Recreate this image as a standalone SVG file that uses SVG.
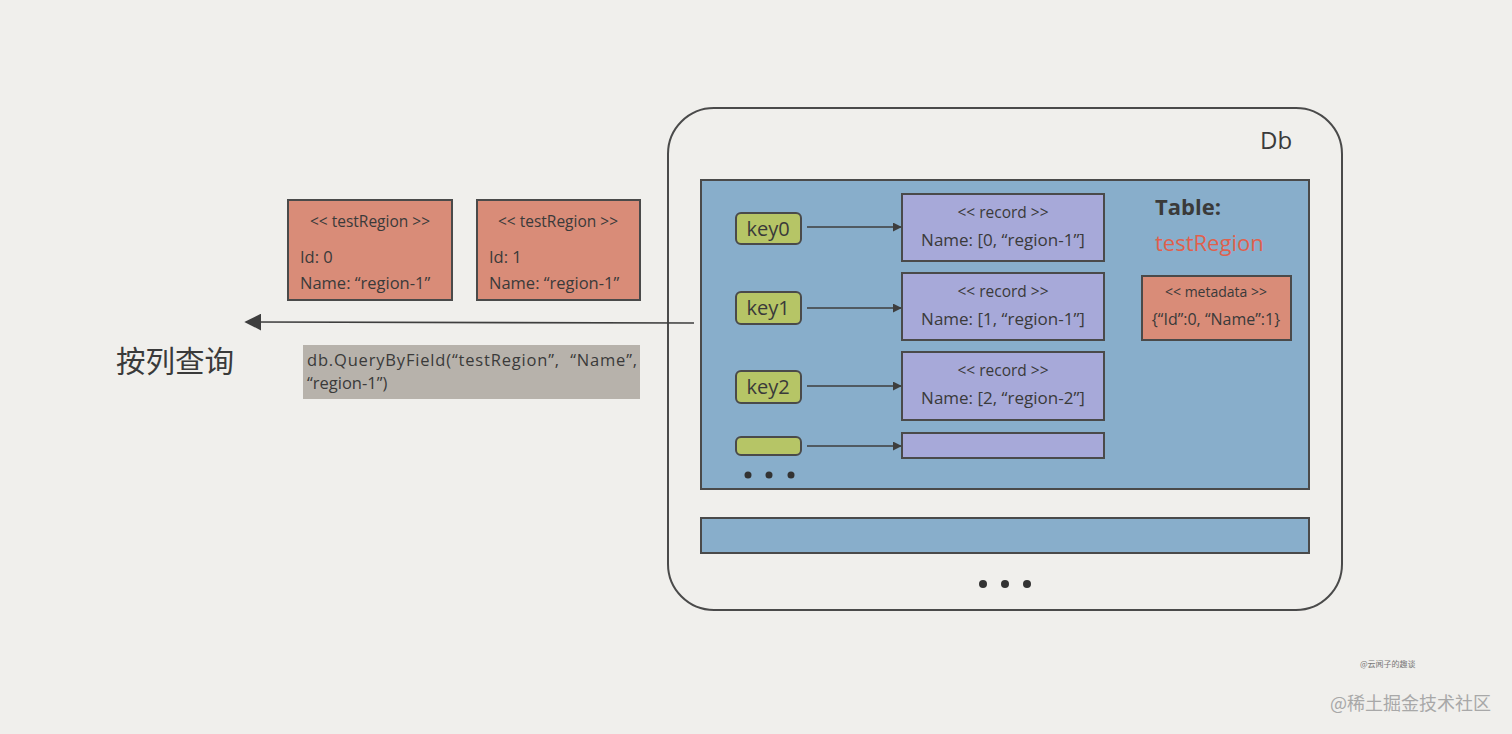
<svg xmlns="http://www.w3.org/2000/svg" width="1512" height="734" viewBox="0 0 1512 734">
<defs>
<style>
.t{font-family:"Open Sans","Noto Sans","Noto Sans CJK SC",sans-serif;fill:#3a3a3a}
.key{fill:#b6c566;stroke:#4a4a4a;stroke-width:2}
.rec{fill:#a7a9d9;stroke:#4a4a4a;stroke-width:2}
.salmon{fill:#d98c78;stroke:#4a4a4a;stroke-width:2}
.blue{fill:#88aecb;stroke:#4a4a4a;stroke-width:2}
.conn{stroke:#3e3e3e;stroke-width:1.6;fill:none}
</style>
<marker id="ah" viewBox="0 0 10 10" refX="9" refY="5" markerWidth="9" markerHeight="9" markerUnits="userSpaceOnUse" orient="auto">
<path d="M0,0 L10,5 L0,10 z" fill="#3e3e3e"/>
</marker>
<marker id="ahb" viewBox="0 0 10 10" refX="9" refY="5" markerWidth="17" markerHeight="17" markerUnits="userSpaceOnUse" orient="auto">
<path d="M0,0 L10,5 L0,10 z" fill="#3e3e3e"/>
</marker>
</defs>
<rect x="0" y="0" width="1512" height="734" fill="#f0efec"/>

<g id="db">
<rect x="668" y="108" width="674" height="502" rx="46" fill="none" stroke="#4a4a4a" stroke-width="2"/>
<text class="t" x="1260" y="149" font-size="24">Db</text>
<rect class="blue" x="701" y="180" width="608" height="309"/>
<rect class="blue" x="701" y="518" width="608" height="35"/>
<circle cx="983" cy="584" r="4" fill="#333"/>
<circle cx="1005" cy="584" r="4" fill="#333"/>
<circle cx="1027" cy="584" r="4" fill="#333"/>
</g>

<g id="table-label">
<text class="t" x="1155" y="215" font-size="22" font-weight="bold">Table:</text>
<text class="t" x="1155" y="251" font-size="22" style="fill:#e0604c">testRegion</text>
</g>

<g id="metadata">
<rect class="salmon" x="1142" y="276" width="149" height="64"/>
<text class="t" x="1216" y="297" font-size="14" text-anchor="middle">&lt;&lt; metadata &gt;&gt;</text>
<text class="t" x="1216" y="325" font-size="16" text-anchor="middle">{“Id”:0, “Name”:1}</text>
</g>

<g id="key0"><rect class="key" x="736" y="213" width="65" height="31" rx="5"/><text class="t" x="768" y="236" font-size="20" text-anchor="middle">key0</text></g>
<g id="key1"><rect class="key" x="736" y="292" width="65" height="32" rx="5"/><text class="t" x="768" y="315" font-size="20" text-anchor="middle">key1</text></g>
<g id="key2"><rect class="key" x="736" y="371" width="65" height="32" rx="5"/><text class="t" x="768" y="394" font-size="20" text-anchor="middle">key2</text></g>
<g id="key3"><rect class="key" x="736" y="437" width="65" height="18" rx="5"/></g>
<g id="dots-keys">
<circle cx="748" cy="475" r="3.5" fill="#333"/>
<circle cx="769" cy="475" r="3.5" fill="#333"/>
<circle cx="791" cy="475" r="3.5" fill="#333"/>
</g>

<g id="record0"><rect class="rec" x="902" y="194" width="202" height="67"/>
<text class="t" x="1003" y="218" font-size="15.5" text-anchor="middle">&lt;&lt; record &gt;&gt;</text>
<text class="t" x="1003" y="246" font-size="17" text-anchor="middle">Name: [0, “region-1”]</text></g>
<g id="record1"><rect class="rec" x="902" y="273" width="202" height="67"/>
<text class="t" x="1003" y="297" font-size="15.5" text-anchor="middle">&lt;&lt; record &gt;&gt;</text>
<text class="t" x="1003" y="325" font-size="17" text-anchor="middle">Name: [1, “region-1”]</text></g>
<g id="record2"><rect class="rec" x="902" y="352" width="202" height="68"/>
<text class="t" x="1003" y="376" font-size="15.5" text-anchor="middle">&lt;&lt; record &gt;&gt;</text>
<text class="t" x="1003" y="404" font-size="17" text-anchor="middle">Name: [2, “region-2”]</text></g>
<g id="record3"><rect class="rec" x="902" y="433" width="202" height="25"/></g>

<g id="testRegion0"><rect class="salmon" x="288" y="200" width="164" height="100"/>
<text class="t" x="370" y="227" font-size="15.5" text-anchor="middle">&lt;&lt; testRegion &gt;&gt;</text>
<text class="t" x="300" y="263" font-size="16.5">Id: 0</text>
<text class="t" x="300" y="289" font-size="16.5">Name: “region-1”</text></g>
<g id="testRegion1"><rect class="salmon" x="477" y="200" width="163" height="100"/>
<text class="t" x="558" y="227" font-size="15.5" text-anchor="middle">&lt;&lt; testRegion &gt;&gt;</text>
<text class="t" x="489" y="263" font-size="16.5">Id: 1</text>
<text class="t" x="489" y="289" font-size="16.5">Name: “region-1”</text></g>

<g id="query-label"><text class="t" x="116" y="372" font-size="29.5">按列查询</text></g>
<g id="query-code"><rect x="303" y="345" width="337" height="54" fill="#b7b2ab"/>
<text class="t" x="307" y="366" font-size="16.5" xml:space="preserve" textLength="330" lengthAdjust="spacing">db.QueryByField(“testRegion”,  “Name”,</text>
<text class="t" x="307" y="389" font-size="16.5">“region-1”)</text></g>

<g id="connectors">
<line class="conn" x1="807" y1="227" x2="901" y2="227" marker-end="url(#ah)"/>
<line class="conn" x1="807" y1="308" x2="901" y2="308" marker-end="url(#ah)"/>
<line class="conn" x1="807" y1="386" x2="901" y2="386" marker-end="url(#ah)"/>
<line class="conn" x1="807" y1="446" x2="901" y2="446" marker-end="url(#ah)"/>
<line class="conn" x1="694" y1="323" x2="246" y2="322" stroke-width="2" marker-end="url(#ahb)"/>
</g>

<g id="watermark">
<text x="1360" y="667" font-size="8" fill="#777" font-family="Noto Sans CJK SC,sans-serif">@云闻子的趣谈</text>
<text x="1330" y="710" font-size="18" fill="#a8a8a8" font-family="Noto Sans CJK SC,sans-serif">@稀土掘金技术社区</text>
</g>
</svg>
